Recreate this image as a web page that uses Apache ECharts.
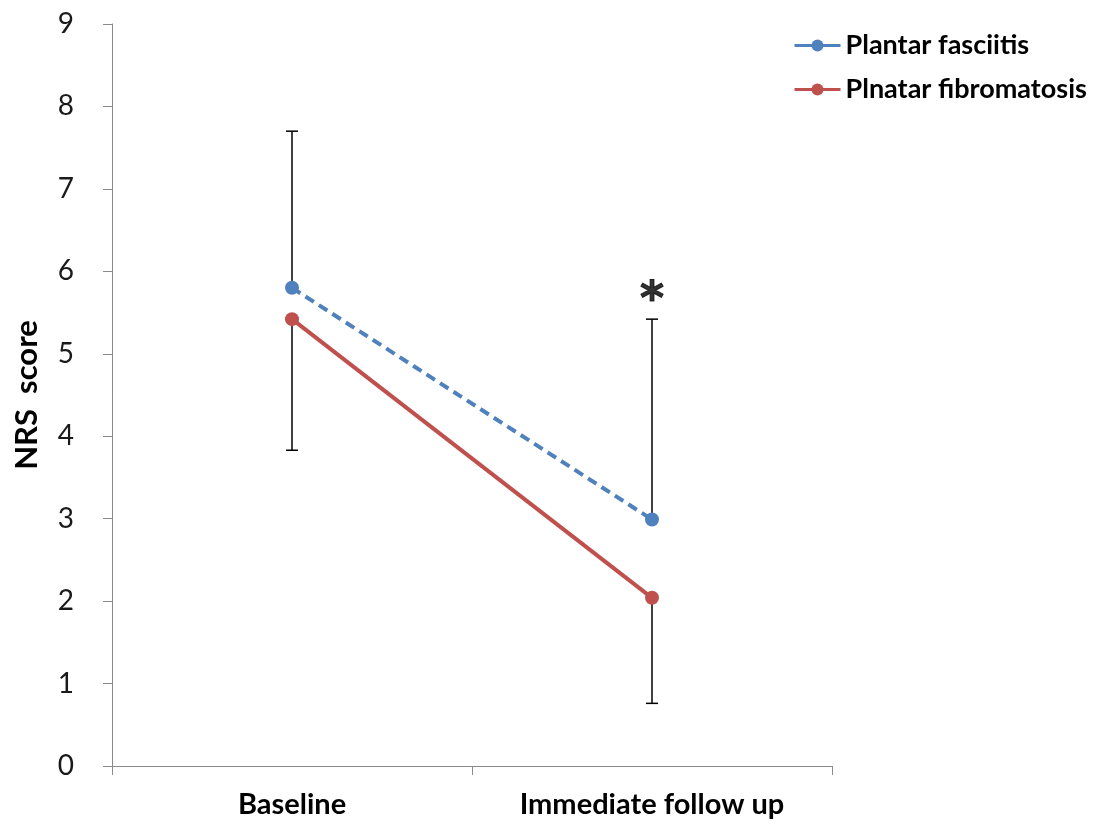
<!DOCTYPE html>
<html>
<head>
<meta charset="utf-8">
<script src="https://cdn.jsdelivr.net/npm/echarts@6/dist/echarts.min.js"></script>
<style>html,body{margin:0;padding:0;background:#fff}#chart{width:1105px;height:831px}</style>
</head>
<body>
<div id="chart"></div>
<script>
const categories = ['Baseline', 'Immediate follow up'];
const fasciitis = [5.80, 2.99];
const fibromatosis = [5.42, 2.04];
const fasciitisErrPlus = [1.90, 2.43];
const fibromatosisErrMinus = [1.59, 1.28];
const yTicks = [0, 1, 2, 3, 4, 5, 6, 7, 8, 9];
const annotations = [{ cat: 1, value: 5.42, text: '*' }];

const FONT = 'Lato, "Liberation Sans", sans-serif';
const errData = [];
categories.forEach((c, i) => {
  errData.push([i, fasciitis[i], fasciitis[i] + fasciitisErrPlus[i]]);
  errData.push([i, fibromatosis[i], fibromatosis[i] - fibromatosisErrMinus[i]]);
});

const chart = echarts.init(document.getElementById('chart'), null, { renderer: 'canvas' });
chart.setOption({
  animation: false,
  backgroundColor: '#ffffff',
  grid: { left: 112, right: 273, top: 24, bottom: 65, containLabel: false },
  legend: {
    data: ['Plantar fasciitis', 'Plnatar fibromatosis'],
    orient: 'vertical',
    left: 788, top: 27,
    itemWidth: 46, itemHeight: 15, itemGap: 17,
    lineStyle: { type: 'solid', width: 3 },
    textStyle: { fontFamily: FONT, fontWeight: 'bold', fontSize: 27, color: '#000' }
  },
  xAxis: {
    type: 'category', data: categories, boundaryGap: true,
    axisLine: { lineStyle: { color: '#8a8a8a', width: 1 } },
    axisTick: { show: true, length: 9, lineStyle: { color: '#8a8a8a' } },
    axisLabel: { margin: 24, fontFamily: FONT, fontWeight: 'bold', fontSize: 29, color: '#000' }
  },
  yAxis: {
    type: 'value', min: yTicks[0], max: yTicks[yTicks.length - 1], interval: 1,
    name: 'NRS  score', nameLocation: 'middle', nameGap: 70, nameRotate: 90,
    nameTextStyle: { fontFamily: FONT, fontWeight: 'bold', fontSize: 31, color: '#000' },
    axisLine: { show: true, lineStyle: { color: '#8a8a8a', width: 1 } },
    axisTick: { show: true, length: 9, lineStyle: { color: '#8a8a8a' } },
    axisLabel: { margin: 38, fontFamily: FONT, fontSize: 28, color: '#1a1a1a' },
    splitLine: { show: false }
  },
  series: [
    {
      type: 'custom', name: 'err', z: 1,
      data: errData,
      renderItem: function (params, api) {
        const p1 = api.coord([api.value(0), api.value(1)]);
        const p2 = api.coord([api.value(0), api.value(2)]);
        const st = { stroke: '#000', lineWidth: 1.5 };
        return {
          type: 'group', children: [
            { type: 'line', shape: { x1: p1[0], y1: p1[1], x2: p2[0], y2: p2[1] }, style: st },
            { type: 'line', shape: { x1: p2[0] - 6, y1: p2[1], x2: p2[0] + 6, y2: p2[1] }, style: st }
          ]
        };
      }
    },
    {
      type: 'line', name: 'Plantar fasciitis', data: fasciitis, z: 3,
      symbol: 'circle', symbolSize: 14,
      itemStyle: { color: '#4F81BD' },
      lineStyle: { color: '#4F81BD', width: 4, type: [10, 6] }
    },
    {
      type: 'line', name: 'Plnatar fibromatosis', data: fibromatosis, z: 3,
      symbol: 'circle', symbolSize: 14,
      itemStyle: { color: '#C0504D' },
      lineStyle: { color: '#C0504D', width: 4 }
    },
    {
      type: 'scatter', name: 'annot', symbolSize: 0, z: 4,
      data: annotations.map(a => ({ value: [a.cat, a.value], label: { formatter: a.text } })),
      label: { show: true, position: 'top', distance: -6, fontFamily: '"DejaVu Sans", sans-serif', fontWeight: 'bold', fontSize: 46, color: '#000', textBorderColor: '#000', textBorderWidth: 1 }
    }
  ]
});
</script>
</body>
</html>
